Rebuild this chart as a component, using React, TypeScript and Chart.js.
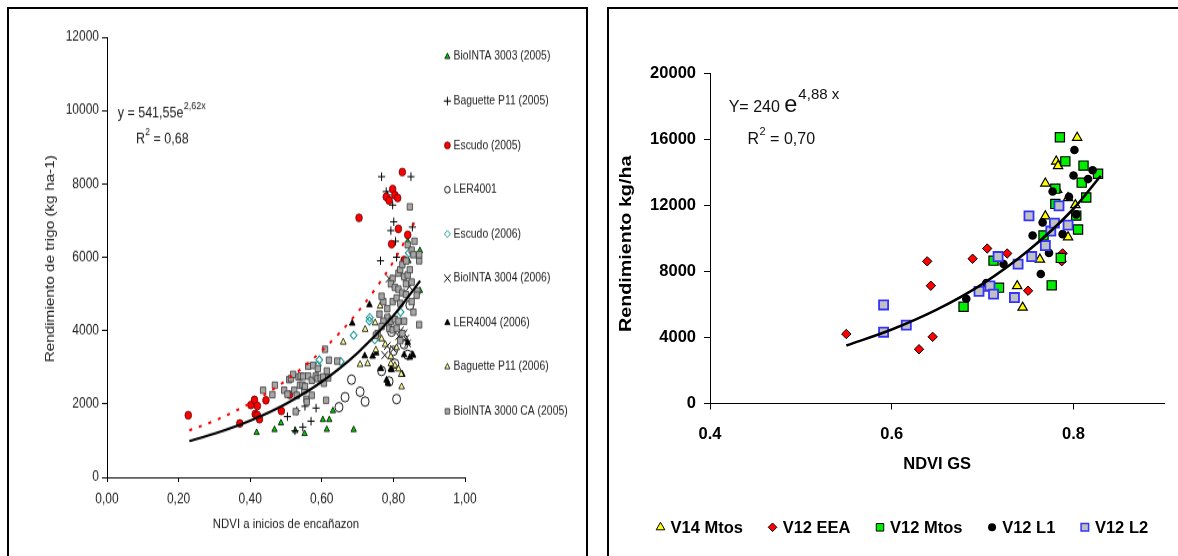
import React, { useEffect, useRef } from 'react';
import { Chart, registerables } from 'chart.js';

Chart.register(...registerables);

const FONT = '"Liberation Sans", Arial, Helvetica, sans-serif';

// ---------------- Left panel data ----------------
const leftXTickLabels = ['0,00', '0,20', '0,40', '0,60', '0,80', '1,00'];
const leftYTickLabels = ['0', '2000', '4000', '6000', '8000', '10000', '12000'];
const leftXTitle = 'NDVI a inicios de encañazon';
const leftYTitle = 'Rendimiento de trigo (kg ha-1)';
const leftEqMain = 'y = 541,55e';
const leftEqExp = '2,62x';
const leftR2 = ' = 0,68';

const bio3003X = [0.418, 0.468, 0.486, 0.526, 0.552, 0.603, 0.614, 0.621, 0.631, 0.689, 0.840, 0.842, 0.852, 0.874, 0.874];
const bio3003Y = [1220, 1300, 1481, 1270, 1190, 1570, 1303, 1570, 1812, 1298, 6430, 5900, 3356, 6180, 5090];

const bag05X = [0.504, 0.530, 0.553, 0.584, 0.570, 0.525, 0.547, 0.767, 0.849, 0.780, 0.783, 0.798, 0.801, 0.793, 0.806, 0.809, 0.853, 0.764];
const bag05Y = [1655, 1810, 1936, 1888, 1530, 1270, 1365, 8197, 8197, 7790, 7693, 7422, 6967, 6726, 6435, 6000, 6822, 5903];

const esc05X = [0.227, 0.371, 0.402, 0.412, 0.420, 0.414, 0.420, 0.426, 0.444, 0.487, 0.510, 0.704, 0.780, 0.788, 0.798, 0.804, 0.812, 0.825, 0.814, 0.795, 0.830, 0.840];
const esc05Y = [1692, 1468, 1970, 2110, 1945, 1725, 1694, 1585, 2100, 1809, 2250, 7074, 7645, 7548, 7858, 7693, 7616, 8322, 6774, 6358, 5922, 6609];

const ler4001X = [0.683, 0.707, 0.665, 0.648, 0.721, 0.767, 0.788, 0.809, 0.800, 0.804, 0.795, 0.830, 0.840, 0.846];
const ler4001Y = [2662, 2334, 2185, 1912, 2066, 2900, 2613, 2132, 3449, 3097, 3968, 3629, 3339, 4693];

const esc06X = [0.589, 0.593, 0.653, 0.689, 0.734, 0.733, 0.820, 0.843, 0.748];
const esc06Y = [3054, 3200, 3155, 3872, 4355, 4262, 4504, 6116, 3752];

const bio3004X = [0.788, 0.830, 0.835, 0.783, 0.776, 0.840, 0.800, 0.820, 0.845, 0.815];
const bio3004Y = [5420, 3920, 3780, 3580, 3330, 3650, 3500, 4000, 5200, 3850];

const ler4004X = [0.733, 0.685, 0.720, 0.742, 0.752, 0.781, 0.785, 0.855, 0.846, 0.795, 0.765, 0.830, 0.840, 0.825, 0.793];
const ler4004Y = [4705, 4200, 3310, 3300, 3390, 2650, 2560, 3330, 3270, 2935, 2964, 3339, 3677, 2806, 2952];

const bag06X = [0.660, 0.721, 0.707, 0.728, 0.749, 0.751, 0.763, 0.767, 0.777, 0.793, 0.804, 0.814, 0.822, 0.823, 0.793, 0.809, 0.788];
const bag06Y = [3684, 4032, 3075, 3098, 4210, 3470, 4670, 3774, 3620, 3290, 3048, 2952, 2806, 2466, 3097, 3532, 4355];

const bio3000X = [
  0.436, 0.462, 0.469, 0.495, 0.509, 0.514, 0.520, 0.523, 0.530, 0.527, 0.535, 0.539, 0.541, 0.546, 0.548, 0.551, 0.553, 0.557,
  0.558, 0.562, 0.562, 0.572, 0.572, 0.576, 0.583, 0.588, 0.589, 0.597, 0.604, 0.606, 0.609, 0.612, 0.614, 0.618, 0.620, 0.643, 0.504,
  0.846, 0.859, 0.840, 0.851, 0.856, 0.872, 0.872, 0.814, 0.819, 0.830, 0.840, 0.846, 0.835, 0.851, 0.798, 0.793, 0.804, 0.814,
  0.825, 0.772, 0.767, 0.783, 0.798, 0.809, 0.819, 0.835, 0.851, 0.856, 0.761, 0.783, 0.793, 0.804, 0.814, 0.830, 0.772, 0.767,
  0.788, 0.798, 0.809, 0.825, 0.872, 0.756, 0.819, 0.751, 0.867, 0.865, 0.825, 0.836,
];
const bio3000Y = [
  2372, 2255, 2510, 2373, 2661, 2691, 2806, 2371, 2237, 1790, 2736, 2509, 2758, 2516, 2754, 2371, 2482, 2129,
  2054, 3027, 2758, 2237, 2645, 3048, 2758, 2691, 2964, 2710, 2736, 2564, 3491, 2100, 2899, 2710, 3194, 3168, 2264,
  7374, 6435, 6338, 6193, 6068, 5903, 6068, 5564, 5661, 5468, 5516, 5661, 5274, 5322, 5419, 5274, 5177, 5129,
  5032, 4790, 4935, 4597, 4790, 4887, 4742, 4984, 4790, 4500, 4451, 4355, 4258, 4306, 4258, 4258, 4258, 4113,
  4065, 4016, 4065, 3919, 4161, 3919, 3726, 3871, 5080, 4965, 5800, 5900,
];

const leftFitX = [0.23, 0.3, 0.4, 0.5, 0.6, 0.7, 0.8, 0.875];
const leftFitY = [990, 1190, 1545, 2005, 2605, 3390, 4405, 5360];
const leftRedX = [0.23, 0.3, 0.4, 0.5, 0.6, 0.7, 0.8, 0.861];
const leftRedY = [1280, 1540, 2020, 2640, 3450, 4500, 5880, 6990];

// ---------------- Right panel data ----------------
const rightXTickLabels = ['0.4', '0.6', '0.8'];
const rightYTickLabels = ['0', '4000', '8000', '12000', '16000', '20000'];
const rightXTitle = 'NDVI GS';
const rightYTitle = 'Rendimiento kg/ha';
const rightEqMain = 'Y= 240 ';
const rightEqE = 'e';
const rightEqExp = '4,88 x';
const rightR2 = ' = 0,70';

const v14X = [0.804, 0.781, 0.783, 0.769, 0.782, 0.794, 0.802, 0.769, 0.794, 0.763, 0.738, 0.744, 0.704];
const v14Y = [16110, 14671, 14392, 13339, 12952, 12458, 12027, 11350, 10080, 8730, 7119, 5815, 6990];

const eeaX = [0.550, 0.630, 0.639, 0.643, 0.645, 0.689, 0.705, 0.727, 0.750, 0.788, 0.787];
const eeaY = [4210, 3286, 8614, 7135, 4038, 8770, 9390, 9090, 6833, 9095, 8620];

const mtosX = [0.785, 0.791, 0.811, 0.809, 0.827, 0.780, 0.780, 0.814, 0.803, 0.805, 0.767, 0.786, 0.776, 0.712, 0.718, 0.679];
const mtosY = [16132, 14671, 14413, 13382, 13919, 13017, 12093, 12480, 11384, 10540, 10180, 8820, 7158, 8655, 7020, 5865];

const l1X = [0.801, 0.800, 0.816, 0.821, 0.777, 0.795, 0.803, 0.788, 0.766, 0.755, 0.773, 0.764, 0.723, 0.682, 0.704];
const l1Y = [15358, 13812, 13597, 14134, 12845, 12523, 11460, 10260, 10967, 10175, 9125, 7843, 8447, 6343, 7300];

const l2X = [0.591, 0.591, 0.616, 0.696, 0.708, 0.712, 0.717, 0.735, 0.739, 0.751, 0.754, 0.769, 0.775, 0.779, 0.784, 0.794];
const l2Y = [5970, 4317, 4747, 6793, 7125, 6625, 8905, 6420, 8440, 11370, 8905, 9570, 10450, 10930, 11976, 10810];

const rightFitX = [0.55, 0.6, 0.65, 0.7, 0.75, 0.8, 0.83];
const rightFitY = [3510, 4480, 5700, 7250, 9250, 11800, 13800];

// ---------------- helpers ----------------
type Shape = 'circle' | 'triangle' | 'rect' | 'rectRot' | 'cross' | 'crossRot';
interface Series {
  label: string;
  xs: number[];
  ys: number[];
  shape: Shape;
  r: number;
  fill: string;
  stroke: string;
  lw: number;
  lr: number;
  llw: number;
}

const pair = (xs: number[], ys: number[]) => xs.map((x, i) => ({ x, y: ys[i] }));

function drawMarker(ctx: CanvasRenderingContext2D, s: Shape, x: number, y: number, r: number, fill: string, stroke: string, lw: number) {
  ctx.save();
  ctx.beginPath();
  ctx.lineWidth = lw;
  ctx.fillStyle = fill;
  ctx.strokeStyle = stroke;
  if (s === 'circle') {
    ctx.arc(x, y, r, 0, Math.PI * 2);
  } else if (s === 'triangle') {
    ctx.moveTo(x, y - r);
    ctx.lineTo(x + r * 0.866, y + r * 0.5);
    ctx.lineTo(x - r * 0.866, y + r * 0.5);
    ctx.closePath();
  } else if (s === 'rect') {
    const h = r * Math.SQRT1_2;
    ctx.rect(x - h, y - h, 2 * h, 2 * h);
  } else if (s === 'rectRot') {
    ctx.moveTo(x, y - r);
    ctx.lineTo(x + r, y);
    ctx.lineTo(x, y + r);
    ctx.lineTo(x - r, y);
    ctx.closePath();
  } else if (s === 'cross') {
    ctx.moveTo(x, y - r);
    ctx.lineTo(x, y + r);
    ctx.moveTo(x - r, y);
    ctx.lineTo(x + r, y);
  } else {
    const d = r * Math.SQRT1_2;
    ctx.moveTo(x - d, y - d);
    ctx.lineTo(x + d, y + d);
    ctx.moveTo(x + d, y - d);
    ctx.lineTo(x - d, y + d);
  }
  if (s !== 'cross' && s !== 'crossRot') ctx.fill();
  if (lw > 0) ctx.stroke();
  ctx.restore();
}

const leftSeries: Series[] = [
  { label: 'BioINTA 3003 (2005)', xs: bio3003X, ys: bio3003Y, shape: 'triangle', r: 3.1, fill: '#00cc00', stroke: '#000', lw: 0.8, lr: 3, llw: 0.8 },
  { label: 'Baguette P11 (2005)', xs: bag05X, ys: bag05Y, shape: 'cross', r: 3.6, fill: '#000', stroke: '#000', lw: 1, lr: 3.6, llw: 1 },
  { label: 'Escudo (2005)', xs: esc05X, ys: esc05Y, shape: 'circle', r: 3.3, fill: '#ff0000', stroke: '#5a0000', lw: 0.8, lr: 2.9, llw: 0.8 },
  { label: 'LER4001', xs: ler4001X, ys: ler4001Y, shape: 'circle', r: 4, fill: '#ffffff', stroke: '#000', lw: 0.9, lr: 2.8, llw: 0.9 },
  { label: 'Escudo (2006)', xs: esc06X, ys: esc06Y, shape: 'rectRot', r: 3.4, fill: 'rgba(255,255,255,0)', stroke: '#1f9a9a', lw: 1.1, lr: 3, llw: 1 },
  { label: 'BioINTA 3004 (2006)', xs: bio3004X, ys: bio3004Y, shape: 'crossRot', r: 4.6, fill: '#000', stroke: '#000', lw: 1, lr: 4.6, llw: 1 },
  { label: 'LER4004 (2006)', xs: ler4004X, ys: ler4004Y, shape: 'triangle', r: 3.3, fill: '#000', stroke: '#000', lw: 0.8, lr: 3, llw: 0.8 },
  { label: 'Baguette P11 (2006)', xs: bag06X, ys: bag06Y, shape: 'triangle', r: 3.3, fill: '#ffff99', stroke: '#000', lw: 0.8, lr: 3, llw: 0.8 },
  { label: 'BioINTA 3000 CA (2005)', xs: bio3000X, ys: bio3000Y, shape: 'rect', r: 3.8, fill: '#a6a6a6', stroke: '#3a3a3a', lw: 0.8, lr: 3.2, llw: 0.8 },
];

const rightSeries: Series[] = [
  { label: 'V14 Mtos', xs: v14X, ys: v14Y, shape: 'triangle', r: 5.4, fill: '#ffff00', stroke: '#000', lw: 1.2, lr: 5, llw: 1 },
  { label: 'V12 EEA', xs: eeaX, ys: eeaY, shape: 'rectRot', r: 4.7, fill: '#ff0000', stroke: '#000', lw: 1, lr: 4.3, llw: 1 },
  { label: 'V12 Mtos', xs: mtosX, ys: mtosY, shape: 'rect', r: 6.5, fill: '#00ee00', stroke: '#000', lw: 1.2, lr: 5.3, llw: 1 },
  { label: 'V12 L1', xs: l1X, ys: l1Y, shape: 'circle', r: 4.3, fill: '#000', stroke: '#000', lw: 0, lr: 4, llw: 0 },
  { label: 'V12 L2', xs: l2X, ys: l2Y, shape: 'rect', r: 6.4, fill: '#c0c0c0', stroke: '#3333ff', lw: 1.8, lr: 5.3, llw: 1.5 },
];

function pointDatasets(series: Series[]) {
  return series.map((s, i) => ({
    label: s.label,
    data: pair(s.xs, s.ys),
    pointStyle: s.shape,
    pointRadius: s.r,
    pointBackgroundColor: s.fill,
    pointBorderColor: s.stroke,
    pointBorderWidth: s.lw,
    showLine: false,
    order: 20 - i,
  }));
}

function lineDataset(label: string, xs: number[], ys: number[], color: string, width: number, dash: number[]) {
  return {
    label,
    data: pair(xs, ys),
    showLine: true,
    borderColor: color,
    borderWidth: width,
    borderDash: dash,
    borderCapStyle: 'butt',
    pointRadius: 0,
    cubicInterpolationMode: 'monotone',
    fill: false,
    order: 0,
  };
}

// ---------------- layout constants ----------------
const L_W = 574;
const L_H = 463;
const L_SY = 1.18;
const R_W = 569;
const R_H = 547;

const leftDecor = {
  id: 'leftDecor',
  afterDraw(chart: any) {
    const ctx: CanvasRenderingContext2D = chart.ctx;
    const a = chart.chartArea;
    ctx.save();
    ctx.fillStyle = '#222';
    ctx.textBaseline = 'middle';
    ctx.textAlign = 'center';
    ctx.font = `11.4px ${FONT}`;
    ctx.fillText(leftXTitle, (a.left + a.right) / 2, 436.3);
    ctx.save();
    ctx.translate(40.8, 210.8);
    ctx.rotate(-Math.PI / 2);
    ctx.font = `13px ${FONT}`;
    ctx.fillText(leftYTitle, 0, 0);
    ctx.restore();

    ctx.textAlign = 'left';
    ctx.font = `12.5px ${FONT}`;
    let x = 107.7;
    ctx.fillText(leftEqMain, x, 87.7);
    x += ctx.measureText(leftEqMain).width;
    ctx.font = `9px ${FONT}`;
    ctx.fillText(leftEqExp, x + 0.3, 81.1);

    ctx.font = `12.5px ${FONT}`;
    x = 126;
    ctx.fillText('R', x, 109.7);
    x += ctx.measureText('R').width;
    ctx.font = `8.5px ${FONT}`;
    ctx.fillText('2', x + 0.3, 103.3);
    x += ctx.measureText('2').width + 0.3;
    ctx.font = `12.5px ${FONT}`;
    ctx.fillText(leftR2, x, 109.7);

    ctx.font = `10.4px ${FONT}`;
    leftSeries.forEach((s, i) => {
      const y = 39.6 + i * 37.56;
      drawMarker(ctx, s.shape, 437.4, y, s.lr, s.fill, s.stroke, s.llw);
      ctx.fillStyle = '#222';
      ctx.fillText(s.label, 443.5, y);
    });
    ctx.restore();
  },
};

const rightDecor = {
  id: 'rightDecor',
  afterDraw(chart: any) {
    const ctx: CanvasRenderingContext2D = chart.ctx;
    const a = chart.chartArea;
    ctx.save();
    ctx.fillStyle = '#000';
    ctx.textBaseline = 'middle';
    ctx.textAlign = 'center';
    ctx.font = `bold 16.5px ${FONT}`;
    ctx.fillText(rightXTitle, (a.left + a.right) / 2, 455.5);
    ctx.save();
    ctx.translate(17.4, 234.8);
    ctx.rotate(-Math.PI / 2);
    ctx.scale(1.16, 1);
    ctx.font = `bold 17px ${FONT}`;
    ctx.fillText(rightYTitle, 0, 0);
    ctx.restore();

    ctx.fillStyle = '#111';
    ctx.textAlign = 'left';
    ctx.textBaseline = 'alphabetic';
    ctx.font = `16px ${FONT}`;
    let x = 119.7;
    ctx.fillText(rightEqMain, x, 102.7);
    x += ctx.measureText(rightEqMain).width;
    ctx.font = `23.5px ${FONT}`;
    ctx.fillText(rightEqE, x, 103.4);
    x += ctx.measureText(rightEqE).width;
    ctx.font = `15px ${FONT}`;
    ctx.fillText(rightEqExp, x + 1, 89.6);

    ctx.font = `16px ${FONT}`;
    x = 138.5;
    ctx.fillText('R', x, 134.6);
    x += ctx.measureText('R').width;
    ctx.font = `11px ${FONT}`;
    ctx.fillText('2', x + 0.5, 126);
    x += ctx.measureText('2').width + 0.5;
    ctx.font = `16px ${FONT}`;
    ctx.fillText(rightR2, x, 134.6);

    ctx.textBaseline = 'middle';
    ctx.font = `bold 16.5px ${FONT}`;
    let lx = 51.5;
    rightSeries.forEach((s) => {
      drawMarker(ctx, s.shape, lx, 518.3, s.lr, s.fill, s.stroke, s.llw);
      ctx.fillStyle = '#000';
      const tx = lx + 10.1;
      ctx.fillText(s.label, tx, 519);
      lx = tx + ctx.measureText(s.label).width + 29.5;
    });
    ctx.restore();
  },
};

function axisCommon(tickLen: number) {
  return {
    grid: { display: true, drawOnChartArea: false, drawTicks: true, tickLength: tickLen, color: '#000', lineWidth: 1 },
    border: { display: true, color: '#000', width: 1 },
  };
}

function leftConfig(): any {
  return {
    type: 'scatter',
    data: {
      datasets: [
        lineDataset('Ajuste exponencial', leftFitX, leftFitY, '#000', 2.2, []),
        lineDataset('Ajuste Escudo', leftRedX, leftRedY, '#ff0000', 2, [3, 7]),
        ...pointDatasets(leftSeries),
      ],
    },
    options: {
      animation: false,
      responsive: false,
      maintainAspectRatio: false,
      devicePixelRatio: 1,
      layout: { padding: { left: 0, right: L_W - 455, top: 23, bottom: 0 } },
      plugins: { legend: { display: false }, tooltip: { enabled: false }, title: { display: false } },
      scales: {
        x: {
          type: 'linear',
          min: 0,
          max: 1,
          afterFit: (s: any) => { s.height = L_H - 396; },
          ticks: {
            stepSize: 0.2,
            maxRotation: 0,
            autoSkip: false,
            padding: 7,
            color: '#222',
            font: { family: FONT, size: 12 },
            callback: (v: any, i: number) => leftXTickLabels[i] ?? String(v),
          },
          ...axisCommon(4),
        },
        y: {
          type: 'linear',
          min: 0,
          max: 12000,
          afterFit: (s: any) => { s.width = 97; },
          ticks: {
            stepSize: 2000,
            autoSkip: false,
            padding: 3,
            color: '#222',
            font: { family: FONT, size: 12 },
            callback: (v: any, i: number) => leftYTickLabels[i] ?? String(v),
          },
          ...axisCommon(5),
        },
      },
    },
    plugins: [leftDecor],
  };
}

function rightConfig(): any {
  return {
    type: 'scatter',
    data: {
      datasets: [
        lineDataset('Ajuste exponencial', rightFitX, rightFitY, '#000', 2.6, []),
        ...pointDatasets(rightSeries),
      ],
    },
    options: {
      animation: false,
      responsive: false,
      maintainAspectRatio: false,
      devicePixelRatio: 1,
      layout: { padding: { left: 0, right: R_W - 555.4, top: 64.4, bottom: 0 } },
      plugins: { legend: { display: false }, tooltip: { enabled: false }, title: { display: false } },
      scales: {
        x: {
          type: 'linear',
          min: 0.4,
          max: 0.9,
          afterFit: (s: any) => { s.height = R_H - 394.5; },
          ticks: {
            stepSize: 0.2,
            includeBounds: false,
            maxRotation: 0,
            autoSkip: false,
            padding: 15,
            color: '#000',
            font: { family: FONT, size: 16.5, weight: 'bold' },
            callback: (v: any, i: number) => rightXTickLabels[i] ?? String(v),
          },
          ...axisCommon(6),
        },
        y: {
          type: 'linear',
          min: 0,
          max: 20000,
          afterFit: (s: any) => { s.width = 101; },
          ticks: {
            stepSize: 4000,
            autoSkip: false,
            padding: 8,
            color: '#000',
            font: { family: FONT, size: 16.5, weight: 'bold' },
            callback: (v: any, i: number) => rightYTickLabels[i] ?? String(v),
          },
          ...axisCommon(6),
        },
      },
    },
    plugins: [rightDecor],
  };
}

export default function App() {
  const leftRef = useRef<HTMLCanvasElement>(null);
  const rightRef = useRef<HTMLCanvasElement>(null);

  useEffect(() => {
    const lc = new Chart(leftRef.current as HTMLCanvasElement, leftConfig());
    const rc = new Chart(rightRef.current as HTMLCanvasElement, rightConfig());
    return () => {
      lc.destroy();
      rc.destroy();
    };
  }, []);

  return (
    <div style={{ position: 'fixed', left: 0, top: 0, width: 1178, height: 556, overflow: 'hidden', background: '#fff' }}>
      <div style={{ position: 'absolute', left: 7, top: 7, width: 581, height: 620, border: '2px solid #000', boxSizing: 'border-box' }} />
      <div style={{ position: 'absolute', left: 607, top: 7, width: 640, height: 620, border: '2px solid #000', boxSizing: 'border-box' }} />
      <div style={{ position: 'absolute', left: 10, top: 10, width: L_W, height: L_H, transform: `scaleY(${L_SY})`, transformOrigin: '0 0' }}>
        <canvas ref={leftRef} width={L_W} height={L_H} style={{ width: L_W, height: L_H, display: 'block' }} />
      </div>
      <div style={{ position: 'absolute', left: 609, top: 9, width: R_W, height: R_H }}>
        <canvas ref={rightRef} width={R_W} height={R_H} style={{ width: R_W, height: R_H, display: 'block' }} />
      </div>
    </div>
  );
}
